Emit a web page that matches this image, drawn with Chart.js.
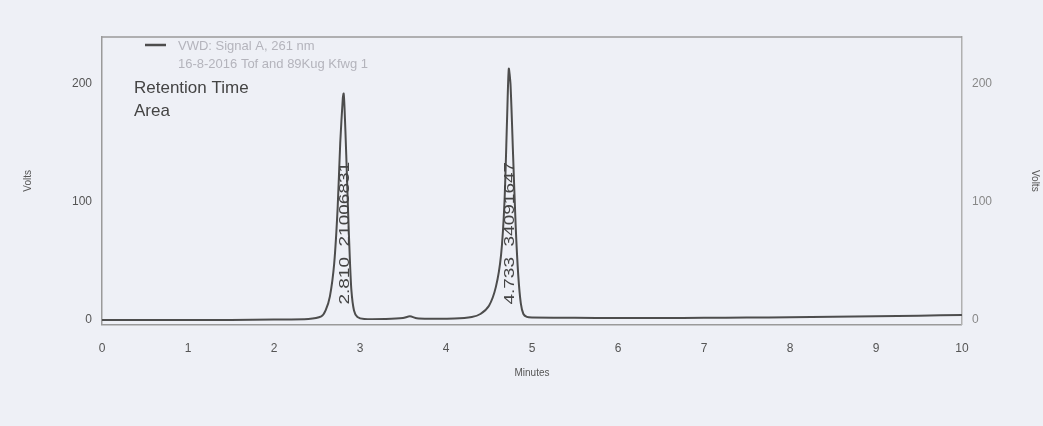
<!DOCTYPE html>
<html>
<head>
<meta charset="utf-8">
<script src="https://cdn.jsdelivr.net/npm/chart.js@4.4.1/dist/chart.umd.min.js"></script>
<style>
  html, body { margin: 0; padding: 0; background: #eef0f6; }
  #wrap { width: 1043px; height: 426px; }
</style>
</head>
<body>
<div id="wrap"><canvas id="chrom"></canvas></div>
<script>
// Trace (minutes, volts)
const traceMinutes = [0, 0.5, 1, 1.5, 2, 2.4, 2.55, 2.6, 2.65, 2.7, 2.74, 2.77, 2.8, 2.81, 2.82, 2.84, 2.86, 2.88, 2.9, 2.93, 2.97, 3.05, 3.3, 3.5, 3.58, 3.66, 3.8, 4.1, 4.3, 4.4, 4.5, 4.58, 4.64, 4.68, 4.71, 4.73, 4.75, 4.78, 4.81, 4.84, 4.87, 4.9, 4.94, 5.0, 5.5, 6, 6.5, 7, 7.5, 8, 8.5, 9, 9.5, 10];
const traceVolts   = [0, 0, 0, 0, 0.3, 0.8, 3, 8, 20, 48, 95, 150, 188, 192, 180, 140, 95, 55, 25, 8, 2.5, 0.8, 0.8, 1.5, 3, 1.4, 1, 1.2, 2.5, 5, 12, 28, 55, 100, 170, 213, 200, 140, 80, 38, 14, 5, 2.5, 2, 1.8, 1.6, 1.6, 1.8, 2, 2.2, 2.6, 3, 3.5, 4.2];

const xTicks = [0, 1, 2, 3, 4, 5, 6, 7, 8, 9, 10];
const yTicks = [0, 100, 200];

// Peak annotations
const peakTimes = [2.810, 4.733];
const peakAreas = [21006831, 34091647];

const legendLines = ['VWD: Signal A, 261 nm', '16-8-2016 Tof and 89Kug Kfwg 1'];
const annotationNames = ['Retention Time', 'Area'];

const textColor = '#555';
const lineColor = '#4d4d4d';

const decorPlugin = {
    id: 'decor',
    beforeDraw(chart) {
        const { ctx, width, height } = chart;
        ctx.save();
        ctx.fillStyle = '#eef0f6';
        ctx.fillRect(0, 0, width, height);
        ctx.restore();
    },
    afterDraw(chart) {
        const { ctx, chartArea } = chart;
        const xs = chart.scales.x;
        const ys = chart.scales.y;
        ctx.save();

        // top frame line
        ctx.strokeStyle = '#9a9a9a';
        ctx.lineWidth = 1.5;
        ctx.beginPath();
        ctx.moveTo(chartArea.left, chartArea.top);
        ctx.lineTo(chartArea.right, chartArea.top);
        ctx.stroke();

        // legend
        ctx.strokeStyle = lineColor;
        ctx.lineWidth = 2.5;
        ctx.beginPath();
        ctx.moveTo(145, 45);
        ctx.lineTo(166, 45);
        ctx.stroke();
        ctx.fillStyle = '#b4b4bc';
        ctx.font = '13px "Liberation Sans", Arial, sans-serif';
        ctx.textBaseline = 'middle';
        ctx.fillText(legendLines[0], 178, 46);
        ctx.fillText(legendLines[1], 178, 64);

        ctx.fillStyle = '#444';
        ctx.font = '17px "Liberation Sans", Arial, sans-serif';
        ctx.fillText(annotationNames[0], 134, 88);
        ctx.fillText(annotationNames[1], 134, 111);

        // rotated peak labels (condensed, like the printout)
        ctx.font = '19px "Liberation Sans", Arial, sans-serif';
        ctx.fillStyle = '#444';
        ctx.textBaseline = 'middle';
        peakTimes.forEach((t, i) => {
            const px = xs.getPixelForValue(t) + 1;
            const py = ys.getPixelForValue(13);
            ctx.save();
            ctx.translate(px, py);
            ctx.rotate(-Math.PI / 2);
            ctx.scale(1, 0.75);
            ctx.textAlign = 'left';
            ctx.fillText(t.toFixed(3) + '  ' + peakAreas[i], 0, 0);
            ctx.restore();
        });

        ctx.restore();
    }
};

const axisTitleFont = { family: '"Liberation Sans", Arial, sans-serif', size: 10 };
const tickFont = { family: '"Liberation Sans", Arial, sans-serif', size: 12 };

new Chart(document.getElementById('chrom'), {
    type: 'line',
    data: {
        datasets: [{
            label: legendLines[0],
            data: traceMinutes.map((m, i) => ({ x: m, y: traceVolts[i] })),
            borderColor: lineColor,
            borderWidth: 2,
            pointRadius: 0,
            tension: 0.25,
            fill: false
        }]
    },
    options: {
        responsive: true,
        maintainAspectRatio: false,
        animation: false,
        layout: { padding: { left: 12, right: 0, top: 37, bottom: 43 } },
        plugins: {
            legend: { display: false },
            tooltip: { enabled: false }
        },
        scales: {
            x: {
                type: 'linear',
                min: 0,
                max: 10,
                afterBuildTicks: (axis) => { axis.ticks = xTicks.map(v => ({ value: v })); },
                ticks: { color: textColor, font: tickFont, padding: 11 },
                grid: { display: false, drawTicks: true, tickLength: 6, color: '#999' },
                border: { color: '#9a9a9a', width: 1.5 },
                title: { display: true, text: 'Minutes', color: textColor, font: axisTitleFont, padding: { top: 0 } }
            },
            y: {
                position: 'left',
                min: -4,
                max: 240,
                afterBuildTicks: (axis) => { axis.ticks = yTicks.map(v => ({ value: v })); },
                ticks: { color: textColor, font: tickFont, padding: 4 },
                grid: { display: false, tickLength: 6 },
                border: { color: '#9a9a9a', width: 1.5 },
                title: { display: true, text: 'Volts', color: textColor, font: axisTitleFont, padding: { top: 10, bottom: 34 } }
            },
            y2: {
                position: 'right',
                min: -4,
                max: 240,
                afterBuildTicks: (axis) => { axis.ticks = yTicks.map(v => ({ value: v })); },
                ticks: { color: '#888', font: tickFont, padding: 6 },
                grid: { display: false, tickLength: 4 },
                border: { color: '#b0b0b0', width: 1.5 },
                title: { display: true, text: 'Volts', color: textColor, font: axisTitleFont, padding: { top: 2, bottom: 31 } }
            }
        }
    },
    plugins: [decorPlugin]
});
</script>
</body>
</html>
